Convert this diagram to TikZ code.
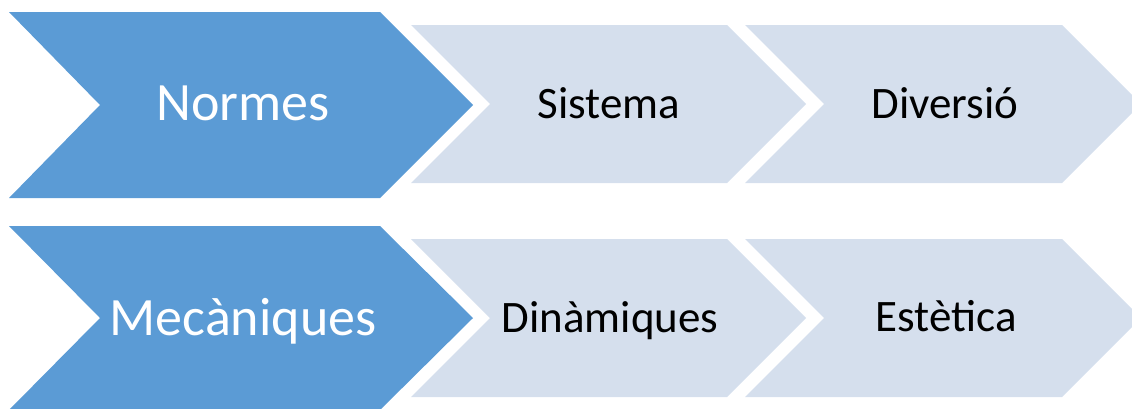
\documentclass[tikz,border=0pt]{standalone}
\usepackage{fontspec}
\setmainfont{Carlito}
\definecolor{darkchev}{RGB}{91,155,213}
\definecolor{lightchev}{RGB}{213,223,237}
\begin{document}
\begin{tikzpicture}[x=1pt,y=-1pt,
  bigchev/.style={fill=darkchev,draw=none},
  smallchev/.style={fill=lightchev,draw=none},
  bigtxt/.style={anchor=base,text=white,font=\fontsize{54}{60}\selectfont,inner sep=0pt},
  smalltxt/.style={anchor=base,text=black,font=\fontsize{45}{50}\selectfont,inner sep=0pt}]
\useasboundingbox (0,0) rectangle (1132,408);
\clip (0,0) rectangle (1132,408);
% top row
\fill[bigchev] (9,12) -- (380,12) -- (473,105) -- (380,198) -- (9,198) -- (100,105) -- cycle;
\fill[smallchev] (411,25) -- (727,25) -- (806,104) -- (727,183) -- (411,183) -- (490,104) -- cycle;
\fill[smallchev] (745,25) -- (1062,25) -- (1141,104) -- (1062,183) -- (745,183) -- (824,104) -- cycle;
% bottom row
\fill[bigchev] (9,226) -- (380,226) -- (473,318) -- (380,410) -- (9,410) -- (100,318) -- cycle;
\fill[smallchev] (411,239) -- (727,239) -- (806,318) -- (727,397) -- (411,397) -- (490,318) -- cycle;
\fill[smallchev] (745,239) -- (1062,239) -- (1141,318) -- (1062,397) -- (745,397) -- (824,318) -- cycle;
% labels
\node[bigtxt] (normes) at (243,120) {Normes};
\node[smalltxt] (sistema) at (609,118) {Sistema};
\node[smalltxt] (diversio) at (945,118) {Diversió};
\node[bigtxt] (mecaniques) at (243,335) {Mecàniques};
\node[smalltxt] (dinamiques) at (610,332) {Dinàmiques};
\node[smalltxt] (estetica) at (946,331) {Estètica};
\end{tikzpicture}
\end{document}
